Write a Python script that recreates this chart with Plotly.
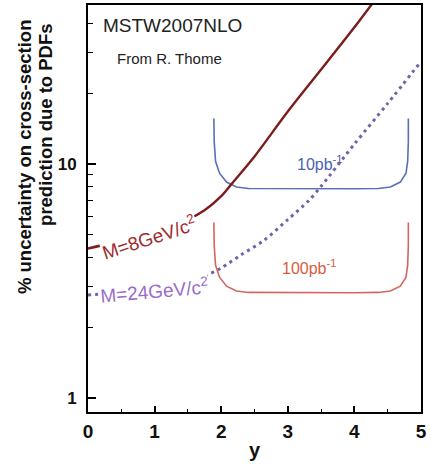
import plotly.graph_objects as go

# ---- data ----
m8_y_rap = [0, 0.5, 1.0, 1.5, 1.75, 2.0, 2.15, 2.5, 3.0, 3.5, 4.0, 4.3]
m8_unc = [4.36, 4.72, 5.15, 5.8, 6.35, 7.3, 8.2, 10.8, 16.8, 25.4, 38.5, 50]

m24_y_rap = [0, 0.5, 1.0, 1.5, 1.78, 2.0, 2.3, 2.64, 3.0, 3.31, 3.5, 4.0, 4.5, 5.0]
m24_unc = [2.76, 2.84, 2.96, 3.13, 3.35, 3.6, 4.1, 4.72, 5.8, 6.97, 8.05, 12.2, 18.2, 27.5]

stat10_y_rap = [1.89, 1.895, 1.915, 1.975, 2.08, 2.23, 2.41, 3.0, 4.0, 4.36, 4.54, 4.69, 4.775, 4.80, 4.81, 4.81]
stat10_unc = [15.7, 12.5, 10.3, 9.16, 8.39, 7.99, 7.87, 7.85, 7.85, 7.87, 7.99, 8.39, 9.16, 10.3, 12.5, 15.7]

stat100_y_rap = [1.89, 1.895, 1.915, 1.975, 2.08, 2.23, 2.41, 3.0, 4.0, 4.36, 4.54, 4.69, 4.775, 4.80, 4.81, 4.81]
stat100_unc = [5.63, 4.49, 3.70, 3.29, 3.01, 2.87, 2.83, 2.82, 2.82, 2.83, 2.87, 3.01, 3.29, 3.70, 4.49, 5.63]

x_ticks = [0, 1, 2, 3, 4, 5]
y_ticks = [1, 10]
y_minor = [2, 3, 4, 5, 6, 7, 8, 9, 20, 30, 40]

FONT = "Liberation Sans, Arial, Helvetica, sans-serif"

W, H = 430, 473
L, R, T, B = 88, 425, 3, 412  # plot area in pixels


def pxx(p):
    return (p - L) / (R - L)


def pxy(p):
    return (B - p) / (B - T)


fig = go.Figure()
fig.add_trace(go.Scatter(x=stat10_y_rap, y=stat10_unc, mode="lines",
                         line=dict(color="#5a6fb5", width=1.6), hoverinfo="skip"))
fig.add_trace(go.Scatter(x=stat100_y_rap, y=stat100_unc, mode="lines",
                         line=dict(color="#d4675c", width=1.6), hoverinfo="skip"))
fig.add_trace(go.Scatter(x=m8_y_rap, y=m8_unc, mode="lines",
                         line=dict(color="#7d1c1c", width=2.4, shape="spline", smoothing=0.8),
                         hoverinfo="skip"))
fig.add_trace(go.Scatter(x=m24_y_rap, y=m24_unc, mode="lines",
                         line=dict(color="#7262a8", width=3, dash="3px,4px", shape="spline", smoothing=0.8),
                         hoverinfo="skip"))

ann = []


def add_text(text, x, y, size, color, angle=0, xanchor="center", weight="normal", bg=None):
    d = dict(text=text, x=pxx(x), y=pxy(y), xref="paper", yref="paper",
             showarrow=False, xanchor=xanchor, yanchor="middle", textangle=angle,
             font=dict(family=FONT, size=size, color=color, weight=weight),
             borderpad=0)
    if bg:
        d["bgcolor"] = bg
    ann.append(d)


add_text("MSTW2007NLO", 102, 24, 19, "#222222", xanchor="left")
add_text("From R. Thome", 116, 57, 15, "#222222", xanchor="left")
add_text("10pb<sup>-1</sup>", 323, 162, 16, "#4a62b2")
add_text("100pb<sup>-1</sup>", 312, 266, 16, "#d65c3e")
add_text("M=8GeV/c<sup>2</sup>", 150, 236, 19, "#a02a2c", angle=-18, bg="white")
add_text("M=24GeV/c<sup>2</sup>", 155, 289, 19, "#9a6cc8", angle=-5, bg="white")
add_text("% uncertainty on cross-section", 23, 156, 18.5, "#111111", angle=-90, weight="bold")
add_text("prediction due to PDFs", 45, 124, 18.5, "#111111", angle=-90, weight="bold")

fig.update_layout(
    width=W, height=H,
    margin=dict(l=L, r=W - R, t=T, b=H - B, pad=0),
    paper_bgcolor="white", plot_bgcolor="white",
    showlegend=False,
    annotations=ann,
    font=dict(family=FONT),
)
fig.update_xaxes(
    range=[0, 5], tickvals=x_ticks, ticks="inside", ticklen=6, tickwidth=1.5,
    tickcolor="black", showline=True, linewidth=2, linecolor="black", mirror=True,
    showgrid=False, zeroline=False, ticklabelstandoff=1, ticklabeloverflow="allow",
    tickfont=dict(family=FONT, size=19, color="#111111", weight="bold"),
    minor=dict(dtick=0.5, ticks="inside", ticklen=3, tickwidth=1.2, tickcolor="black", showgrid=False),
    title=dict(text="y", font=dict(family=FONT, size=20, color="#111111", weight="bold"), standoff=2),
)
fig.update_yaxes(
    type="log", range=[-0.0596, 1.681], tickvals=y_ticks, ticktext=["1", "10"],
    ticks="inside", ticklen=8, tickwidth=1.5, tickcolor="black",
    showline=True, linewidth=2, linecolor="black", mirror=True,
    showgrid=False, zeroline=False, ticklabelstandoff=6,
    tickfont=dict(family=FONT, size=17, color="#111111", weight="bold"),
    minor=dict(tickvals=y_minor, ticks="inside", ticklen=5, tickwidth=1.2, tickcolor="black", showgrid=False),
)

fig.write_html("out.html", config={"displayModeBar": False},
               post_script="document.body.style.margin='0';")
